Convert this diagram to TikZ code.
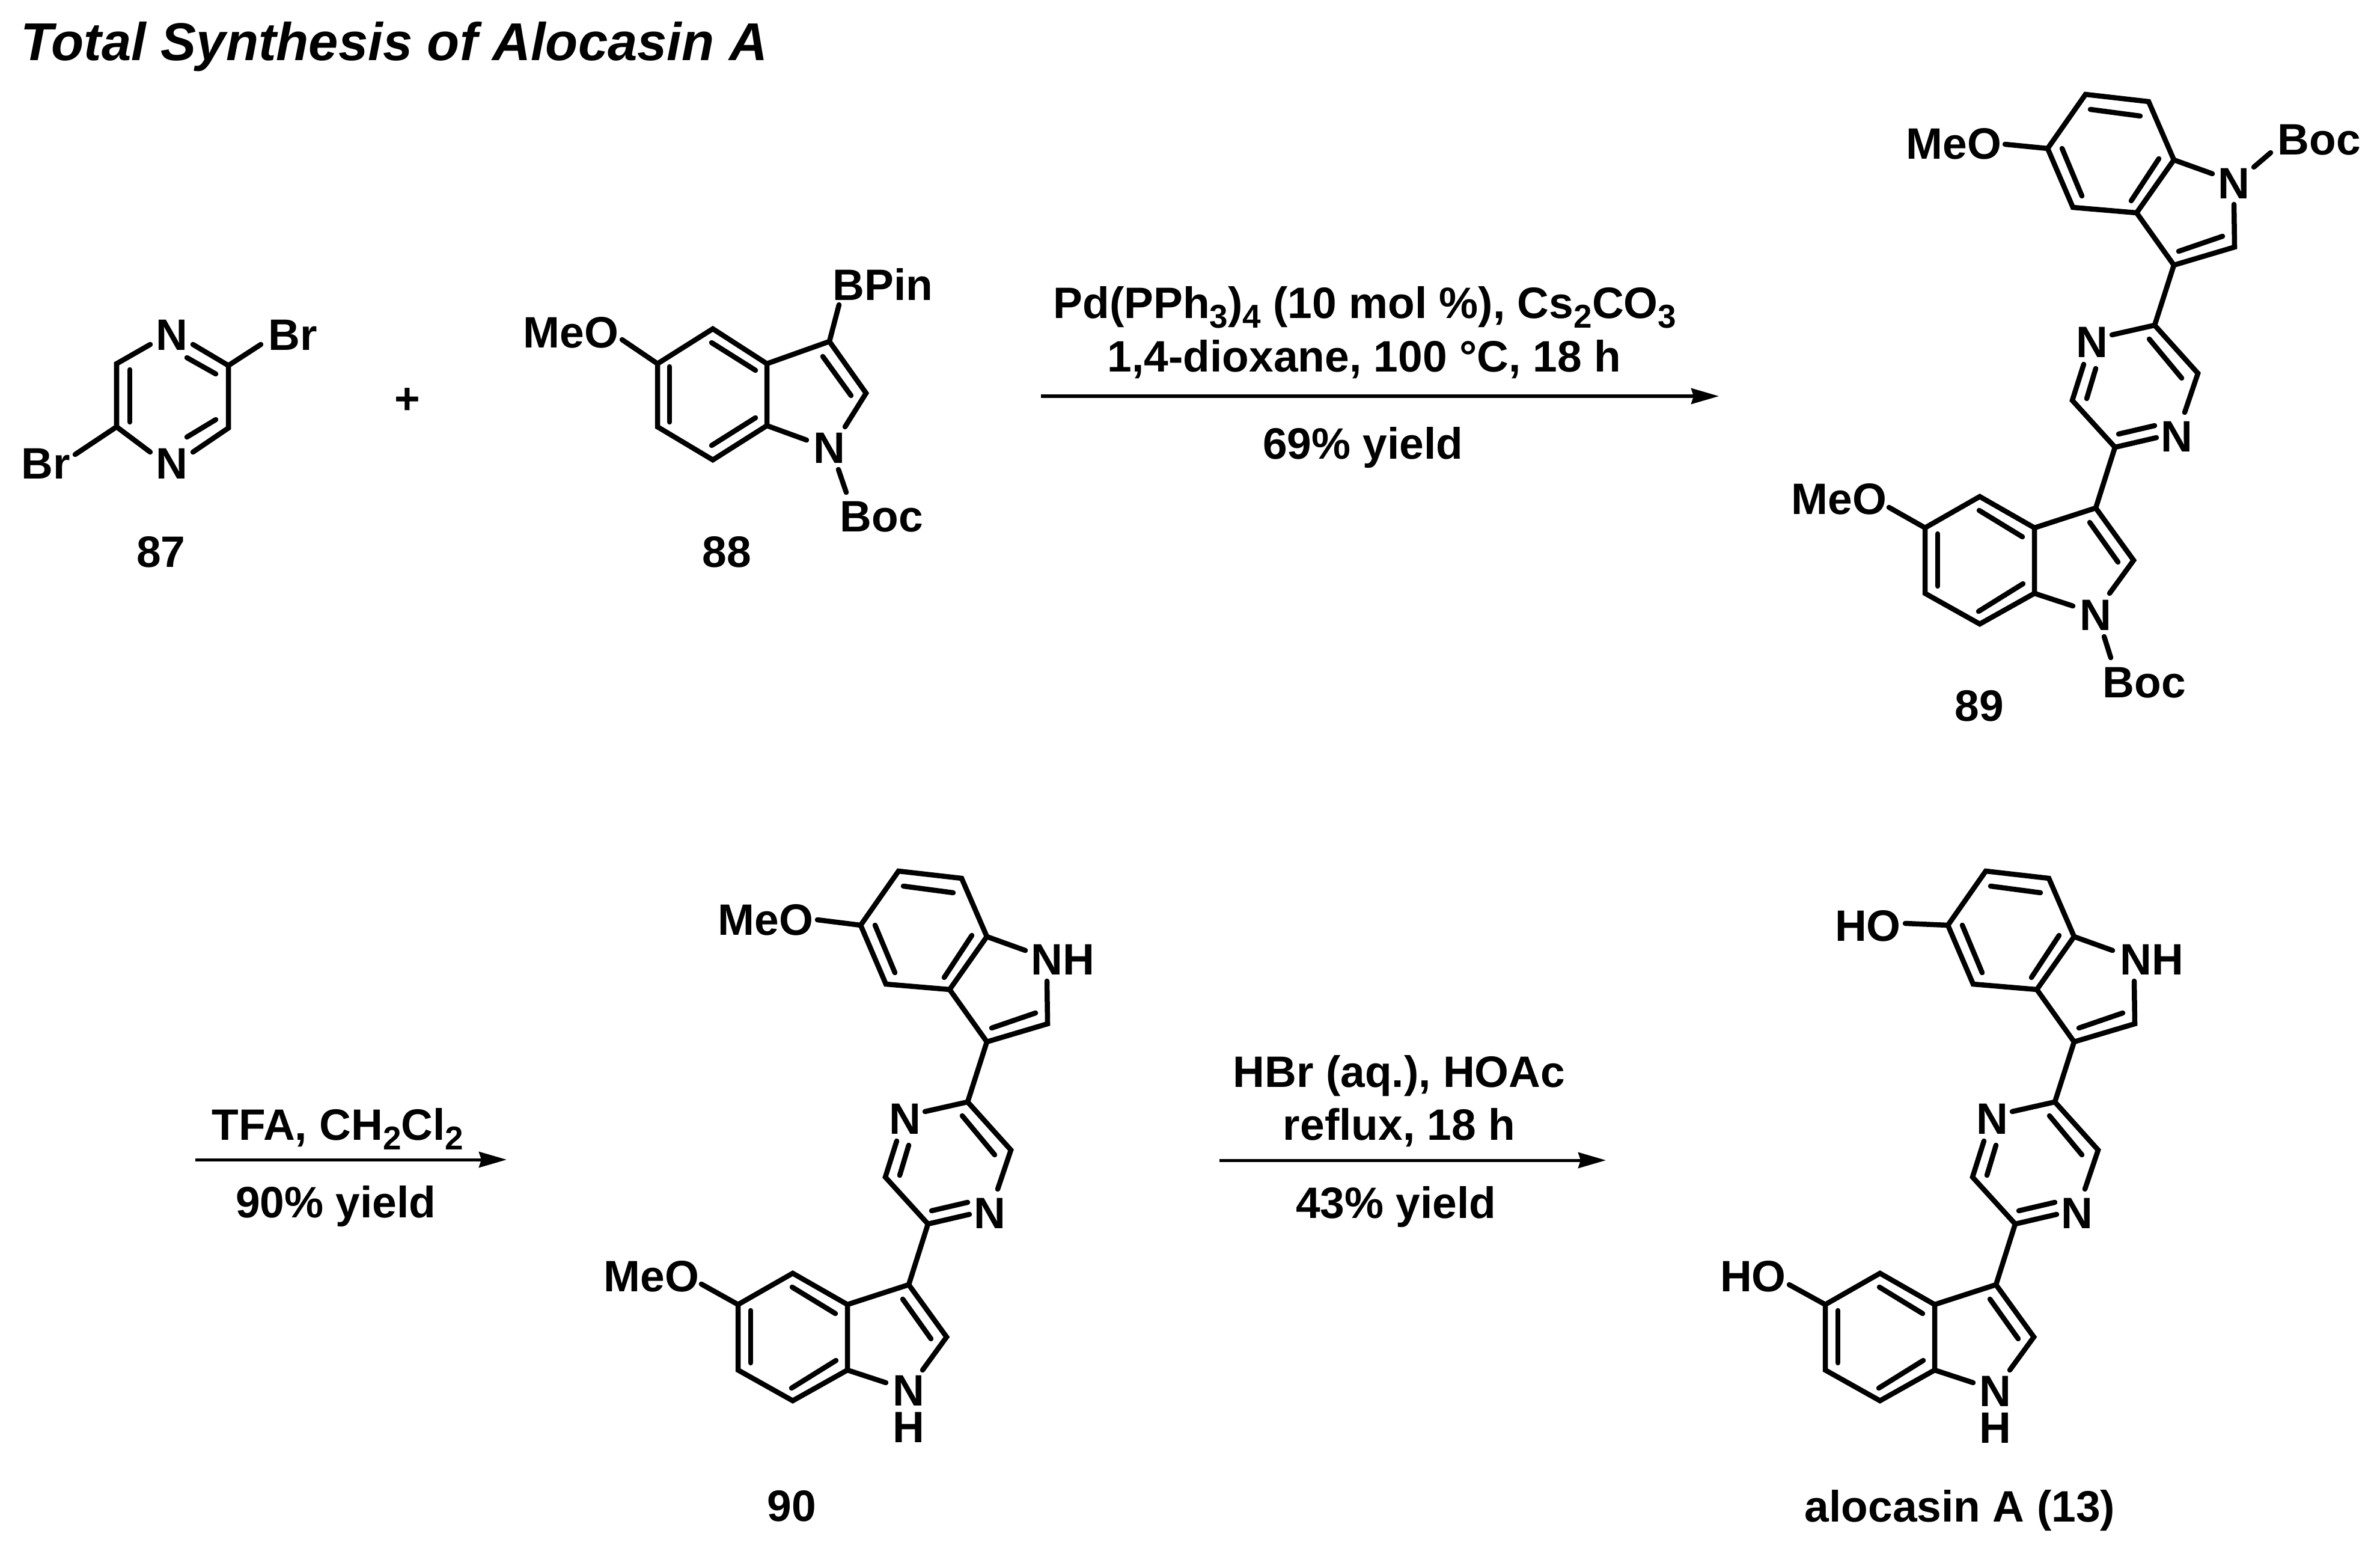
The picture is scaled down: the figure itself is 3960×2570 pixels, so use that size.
\documentclass[tikz,border=0pt]{standalone}
\usepackage{fontspec}
\setmainfont{Liberation Sans}
\usetikzlibrary{arrows.meta}
\newcommand\sbs[1]{\raisebox{-4.8pt}{\fontsize{15.6}{18}\selectfont #1}}
\tikzset{
  bond/.style={line width=0.085cm,line cap=round,line join=miter,miter limit=10},
  lbl/.style={inner sep=0pt,anchor=base,font=\fontsize{20.8}{25}\selectfont\bfseries},
  stack/.style={inner sep=0pt,anchor=south,align=center,font=\fontsize{20.8}{17.35}\selectfont\bfseries},
  ttl/.style={inner sep=0pt,anchor=base,font=\fontsize{25.2}{30}\selectfont\bfseries\itshape},
  rxn/.style={line width=0.05cm,-{Stealth[length=0.46cm,width=0.26cm,inset=0.04cm]}}
}
% shared bis(indolyl)pyrazine skeleton; #1 shift, #2 name prefix
\newcommand\coreskel[2]{%
\begin{scope}[shift={(#1)}]
  \coordinate (#2a) at (3470,157); \coordinate (#2b) at (3575,169);
  \coordinate (#2c) at (3617,266); \coordinate (#2d) at (3555,354);
  \coordinate (#2e) at (3449,345); \coordinate (#2f) at (3407,247);
  \coordinate (#2g) at (3617,441); \coordinate (#2h) at (3718,411);
  \coordinate (#2nh) at (3717,340); \coordinate (#2nc) at (3681,289);
  \coordinate (#2p) at (3585,541); \coordinate (#2r) at (3657,621);
  \coordinate (#2l) at (3448,666); \coordinate (#2q) at (3519,744);
  \coordinate (#2na) at (3514,557); \coordinate (#2nb) at (3467,606);
  \coordinate (#2nd) at (3635,686); \coordinate (#2ne) at (3588,728);
  \coordinate (#2A) at (3487,845); \coordinate (#2B) at (3385,878);
  \coordinate (#2C) at (3294,826); \coordinate (#2D) at (3203,878);
  \coordinate (#2E) at (3203,987); \coordinate (#2F) at (3294,1038);
  \coordinate (#2G) at (3385,987); \coordinate (#2H) at (3550,932);
  \coordinate (#2Na) at (3510,987); \coordinate (#2Nb) at (3449,1008);
  \draw[bond] (#2a)--(#2b)--(#2c)--(#2d)--(#2e)--(#2f)--cycle;
  \draw[bond] (#2nc)--(#2c);
  \draw[bond] (#2d)--(#2g)--(#2h)--(#2nh);
  \draw[bond] (#2g)--(#2p);
  \draw[bond] (#2na)--(#2p)--(#2r)--(#2nd);
  \draw[bond] (#2nb)--(#2l)--(#2q)--(#2ne);
  \draw[bond] (#2q)--(#2A);
  \draw[bond] (#2A)--(#2B)--(#2C)--(#2D)--(#2E)--(#2F)--(#2G)--(#2B);
  \draw[bond] (#2A)--(#2H)--(#2Na);
  \draw[bond] (#2G)--(#2Nb);
  \draw[bond] (3478,182)--(3561,193);
  \draw[bond] (3431,247)--(3464,326);
  \draw[bond] (3592,264)--(3546,334);
  \draw[bond] (3625,418)--(3698,393);
  \draw[bond] (3487,613)--(3472,663);
  \draw[bond] (3576,564)--(3630,629);
  \draw[bond] (3525,722)--(3585,708);
  \draw[bond] (3224,888)--(3224,975);
  \draw[bond] (3293,849)--(3365,893);
  \draw[bond] (3292,1017)--(3366,971);
  \draw[bond] (3477,869)--(3524,935);
  \node[lbl] (#2N1) at (3481,594) {N};
  \node[lbl] (#2N2) at (3622,751) {N};
\end{scope}}
\begin{document}
\begin{tikzpicture}[x=0.01cm,y=-0.01cm]
\useasboundingbox (0,0) rectangle (3960,2570);
\fill[white] (0,0) rectangle (3960,2570);
\node[ttl] (title) at (656,101) {Total Synthesis of Alocasin A};

% 87
\coordinate (p1) at (194,605); \coordinate (p2) at (194,710);
\coordinate (p3) at (380,712); \coordinate (p4) at (380,608);
\coordinate (p5) at (250,573); \coordinate (p6) at (321,573);
\coordinate (p7) at (250,752); \coordinate (p8) at (321,752);
\coordinate (p9) at (434,573); \coordinate (p10) at (125,756);
\draw[bond] (p5)--(p1)--(p2)--(p7);
\draw[bond] (p6)--(p4)--(p3)--(p8);
\draw[bond] (p4)--(p9);
\draw[bond] (p2)--(p10);
\draw[bond] (216,615)--(216,702);
\draw[bond] (311,595)--(359,622);
\draw[bond] (359,698)--(311,727);
\node[lbl] (n87a) at (286,583) {N};
\node[lbl] (n87b) at (286,796) {N};
\node[lbl] (br1) at (487,583) {Br};
\node[lbl] (br2) at (76,796) {Br};
\node[lbl] (l87) at (268,943) {87};
\node[lbl] (plus) at (678,688) {+};

% 88
\coordinate (i1) at (1094,605); \coordinate (i2) at (1186,547);
\coordinate (i3) at (1276,605); \coordinate (i4) at (1276,708);
\coordinate (i5) at (1186,765); \coordinate (i6) at (1094,710);
\coordinate (i7) at (1380,568); \coordinate (i8) at (1441,654);
\coordinate (i9) at (1406,710); \coordinate (i10) at (1342,732);
\coordinate (i11) at (1395,781); \coordinate (i12) at (1408,819);
\coordinate (i13) at (1396,507); \coordinate (i14) at (1035,565);
\draw[bond] (i1)--(i2)--(i3)--(i4)--(i5)--(i6)--cycle;
\draw[bond] (i3)--(i7)--(i8)--(i9);
\draw[bond] (i4)--(i10);
\draw[bond] (i11)--(i12);
\draw[bond] (i7)--(i13);
\draw[bond] (i14)--(i1);
\draw[bond] (1114,610)--(1114,702);
\draw[bond] (1184,570)--(1257,616);
\draw[bond] (1257,695)--(1184,741);
\draw[bond] (1369,593)--(1416,658);
\node[lbl] (n88) at (1380,770) {N};
\node[lbl] (bpin) at (1469,499) {BPin};
\node[lbl] (boc88) at (1467,884) {Boc};
\node[lbl] (meo88) at (950,578) {MeO};
\node[lbl] (l88) at (1209,943) {88};

% arrow 1
\coordinate (a1s) at (1732,659); \coordinate (a1e) at (2860,659);
\draw[rxn] (a1s)--(a1e);
\node[lbl] (r1a) at (2271,529) {Pd(PPh\sbs{3})\sbs{4} (10 mol \%), Cs\sbs{2}CO\sbs{3}};
\node[lbl] (r1b) at (2270,618) {1,4-dioxane, 100 °C, 18 h};
\node[lbl] (r1c) at (2268,763) {69\% yield};

% 89
\coreskel{0,0}{u}
\coordinate (um1) at (3336,240); \coordinate (um2) at (3143,844);
\coordinate (ub1) at (3750,278); \coordinate (ub2) at (3778,254);
\coordinate (ub3) at (3501,1059); \coordinate (ub4) at (3512,1094);
\draw[bond] (um1)--(uf);
\draw[bond] (um2)--(uD);
\draw[bond] (ub1)--(ub2);
\draw[bond] (ub3)--(ub4);
\node[lbl] (meo89a) at (3251,265) {MeO};
\node[lbl] (meo89b) at (3060,855) {MeO};
\node[lbl] (n89a) at (3717,331) {N};
\node[lbl] (n89b) at (3487,1048) {N};
\node[lbl] (boc89a) at (3859,258) {Boc};
\node[lbl] (boc89b) at (3568,1160) {Boc};
\node[lbl] (l89) at (3293,1199) {89};

% arrow 2
\coordinate (a2s) at (325,1929); \coordinate (a2e) at (843,1929);
\draw[rxn] (a2s)--(a2e);
\node[lbl] (r2a) at (562,1896) {TFA, CH\sbs{2}Cl\sbs{2}};
\node[lbl] (r2b) at (559,2025) {90\% yield};

% 90
\coreskel{-1975,1292}{v}
\coordinate (vm1) at (1360,1530); \coordinate (vm2) at (1167,2136);
\draw[bond] (vm1)--(vf);
\draw[bond] (vm2)--(vD);
\node[lbl] (meo90a) at (1274,1555) {MeO};
\node[lbl] (meo90b) at (1084,2148) {MeO};
\node[lbl] (nh90) at (1768,1621) {NH};
\node[stack] (nh90b) at (1512,2400) {N\\H};
\node[lbl] (l90) at (1317,2530) {90};

% arrow 3
\coordinate (a3s) at (2029,1930); \coordinate (a3e) at (2672,1930);
\draw[rxn] (a3s)--(a3e);
\node[lbl] (r3a) at (2328,1808) {HBr (aq.), HOAc};
\node[lbl] (r3b) at (2328,1896) {reflux, 18 h};
\node[lbl] (r3c) at (2323,2026) {43\% yield};

% alocasin A
\coreskel{-166,1292}{w}
\coordinate (wm1) at (3170,1536); \coordinate (wm2) at (2977,2137);
\draw[bond] (wm1)--(wf);
\draw[bond] (wm2)--(wD);
\node[lbl] (ho1) at (3108,1565) {HO};
\node[lbl] (ho2) at (2917,2148) {HO};
\node[lbl] (nh13) at (3580,1621) {NH};
\node[stack] (nh13b) at (3320,2401) {N\\H};
\node[lbl] (l13) at (3261,2531) {alocasin A (13)};
\end{tikzpicture}
\end{document}
